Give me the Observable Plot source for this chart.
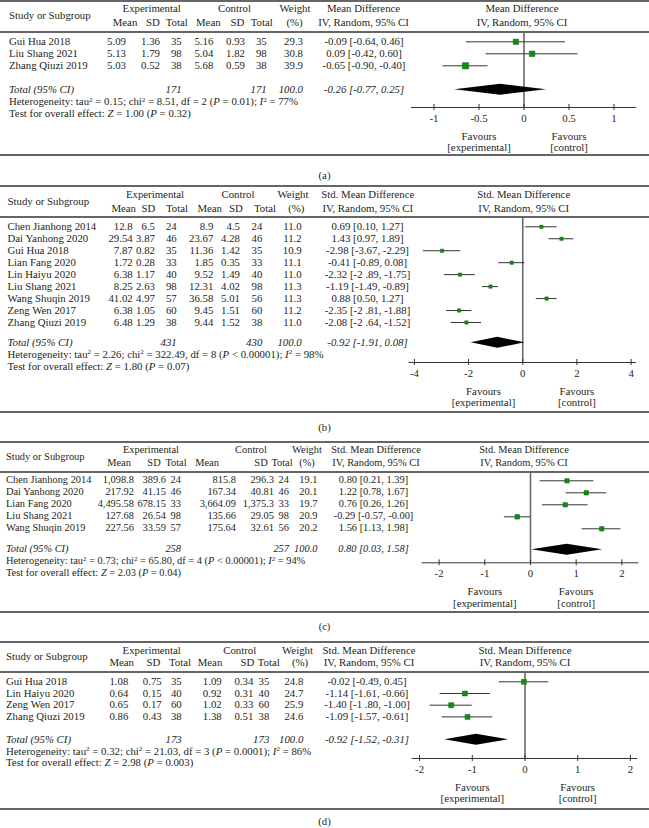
<!DOCTYPE html>
<html><head><meta charset="utf-8">
<script src="https://cdn.jsdelivr.net/npm/d3@7"></script>
<script src="https://cdn.jsdelivr.net/npm/@observablehq/plot@0.6"></script>
<style>
body{margin:0;background:#fff;}
#page{position:relative;width:649px;height:828px;overflow:hidden;font-family:"Liberation Serif","Times New Roman",serif;font-size:10.8px;color:#231f20;background:#fff;}
.layer{position:absolute;left:0;top:0;width:649px;height:828px;}
.t{position:absolute;white-space:nowrap;line-height:1;}
.it{font-style:italic;}
.hr{position:absolute;left:0;width:649px;height:2px;background:#666;}
sup{font-size:7px;line-height:0;position:relative;top:-0.5em;vertical-align:baseline;}
</style></head>
<body><div id="page"></div>
<script>
// ---------- shared labels ----------
const studyHeader = "Study or Subgroup";
const headerGroups = ["Experimental", "Control", "Weight"];
const headerCols = ["Mean", "SD", "Total", "Mean", "SD", "Total", "(%)"];
const ciMethod = "IV, Random, 95% CI";
const totalLabel = "Total (95% CI)";
const favoursLabels = ["Favours\n[experimental]", "Favours\n[control]"];
const panelLabels = ["(a)", "(b)", "(c)", "(d)"];

// ---------- panel (a) ----------
const effectA = "Mean Difference";
const studiesA = ["Gui Hua 2018", "Liu Shang 2021", "Zhang Qiuzi 2019"];
const expMeanA = ["5.09", "5.13", "5.03"];
const expSdA = ["1.36", "1.79", "0.52"];
const expNA = [35, 98, 38];
const ctlMeanA = ["5.16", "5.04", "5.68"];
const ctlSdA = ["0.93", "1.82", "0.59"];
const ctlNA = [35, 98, 38];
const weightA = [29.3, 30.8, 39.9];
const estA = [-0.09, 0.09, -0.65];
const loA = [-0.64, -0.42, -0.90];
const hiA = [0.46, 0.60, -0.40];
const ciTextA = ["-0.09 [-0.64, 0.46]", "0.09 [-0.42, 0.60]", "-0.65 [-0.90, -0.40]"];
const totalNA = [171, 171];
const totalEstA = [-0.26, -0.77, 0.25];
const totalTextA = "-0.26 [-0.77, 0.25]";
const hetA = ["0.15", "8.51", "2", "= 0.01", "77"];
const testA = ["1.00", "= 0.32"];
const ticksA = [-1, -0.5, 0, 0.5, 1];

// ---------- panel (b) ----------
const effectB = "Std. Mean Difference";
const studiesB = ["Chen Jianhong 2014", "Dai Yanhong 2020", "Gui Hua 2018", "Lian Fang 2020", "Lin Haiyu 2020", "Liu Shang 2021", "Wang Shuqin 2019", "Zeng Wen 2017", "Zhang Qiuzi 2019"];
const expMeanB = ["12.8", "29.54", "7.87", "1.72", "6.38", "8.25", "41.02", "6.38", "6.48"];
const expSdB = ["6.5", "3.87", "0.82", "0.28", "1.17", "2.63", "4.97", "1.05", "1.29"];
const expNB = [24, 46, 35, 33, 40, 98, 57, 60, 38];
const ctlMeanB = ["8.9", "23.67", "11.36", "1.85", "9.52", "12.31", "36.58", "9.45", "9.44"];
const ctlSdB = ["4.5", "4.28", "1.42", "0.35", "1.49", "4.02", "5.01", "1.51", "1.52"];
const ctlNB = [24, 46, 35, 33, 40, 98, 56, 60, 38];
const weightB = [11.0, 11.2, 10.9, 11.1, 11.0, 11.3, 11.3, 11.2, 11.0];
const estB = [0.69, 1.43, -2.98, -0.41, -2.32, -1.19, 0.88, -2.35, -2.08];
const loB = [0.10, 0.97, -3.67, -0.89, -2.89, -1.49, 0.50, -2.81, -2.64];
const hiB = [1.27, 1.89, -2.29, 0.08, -1.75, -0.89, 1.27, -1.88, -1.52];
const ciTextB = ["0.69 [0.10, 1.27]", "1.43 [0.97, 1.89]", "-2.98 [-3.67, -2.29]", "-0.41 [-0.89, 0.08]", "-2.32 [-2 .89, -1.75]", "-1.19 [-1.49, -0.89]", "0.88 [0.50, 1.27]", "-2.35 [-2 .81, -1.88]", "-2.08 [-2 .64, -1.52]"];
const totalNB = [431, 430];
const totalEstB = [-0.92, -1.91, 0.08];
const totalTextB = "-0.92 [-1.91, 0.08]";
const hetB = ["2.26", "322.49", "8", "< 0.00001", "98"];
const testB = ["1.80", "= 0.07"];
const ticksB = [-4, -2, 0, 2, 4];

// ---------- panel (c) ----------
const effectC = "Std. Mean Difference";
const studiesC = ["Chen Jianhong 2014", "Dai Yanhong 2020", "Lian Fang 2020", "Liu Shang 2021", "Wang Shuqin 2019"];
const expMeanC = ["1,098.8", "217.92", "4,495.58", "127.68", "227.56"];
const expSdC = ["389.6", "41.15", "678.15", "26.54", "33.59"];
const expNC = [24, 46, 33, 98, 57];
const ctlMeanC = ["815.8", "167.34", "3,664.09", "135.66", "175.64"];
const ctlSdC = ["296.3", "40.81", "1,375.3", "29.05", "32.61"];
const ctlNC = [24, 46, 33, 98, 56];
const weightC = [19.1, 20.1, 19.7, 20.9, 20.2];
const estC = [0.80, 1.22, 0.76, -0.29, 1.56];
const loC = [0.21, 0.78, 0.26, -0.57, 1.13];
const hiC = [1.39, 1.67, 1.26, -0.00, 1.98];
const ciTextC = ["0.80 [0.21, 1.39]", "1.22 [0.78, 1.67]", "0.76 [0.26, 1.26]", "-0.29 [-0.57, -0.00]", "1.56 [1.13, 1.98]"];
const totalNC = [258, 257];
const totalEstC = [0.80, 0.03, 1.58];
const totalTextC = "0.80 [0.03, 1.58]";
const hetC = ["0.73", "65.80", "4", "< 0.00001", "94"];
const testC = ["2.03", "= 0.04"];
const ticksC = [-2, -1, 0, 1, 2];

// ---------- panel (d) ----------
const effectD = "Std. Mean Difference";
const studiesD = ["Gui Hua 2018", "Lin Haiyu 2020", "Zeng Wen 2017", "Zhang Qiuzi 2019"];
const expMeanD = ["1.08", "0.64", "0.65", "0.86"];
const expSdD = ["0.75", "0.15", "0.17", "0.43"];
const expND = [35, 40, 60, 38];
const ctlMeanD = ["1.09", "0.92", "1.02", "1.38"];
const ctlSdD = ["0.34", "0.31", "0.33", "0.51"];
const ctlND = [35, 40, 60, 38];
const weightD = [24.8, 24.7, 25.9, 24.6];
const estD = [-0.02, -1.14, -1.40, -1.09];
const loD = [-0.49, -1.61, -1.80, -1.57];
const hiD = [0.45, -0.66, -1.00, -0.61];
const ciTextD = ["-0.02 [-0.49, 0.45]", "-1.14 [-1.61, -0.66]", "-1.40 [-1 .80, -1.00]", "-1.09 [-1.57, -0.61]"];
const totalND = [173, 173];
const totalEstD = [-0.92, -1.52, -0.31];
const totalTextD = "-0.92 [-1.52, -0.31]";
const hetD = ["0.32", "21.03", "3", "= 0.0001", "86"];
const testD = ["2.98", "= 0.003"];
const ticksD = [-2, -1, 0, 1, 2];

// ---------- layout (pixel positions of the page design) ----------
const layouts = [
  {font:10.8, top:0, h1:8, h2:22, under:31.7, row0:41, pitch:12, gap:2, axis:106.7, bottom:155, label:175,
   x0:411, x1:636, xMax:1.25, fav:[-0.5, 0.5], studyX:9,
   colR:[126,160,181.7,213.3,245,266.7,303], subC:[125,153,176.7,208.3,237.5,261.7,294.5],
   grpC:[151.7,234.5,295], ciC:364, ciHeadC:363.5, forestHeadC:522},
  {font:10.8, top:186, h1:194, h2:208, under:216.7, row0:226, pitch:11.96, gap:1.7, axis:361.7, bottom:411.7, label:427,
   x0:408.5, x1:636, xMax:4.2, fav:[-1.45, 2], studyX:7.5,
   colR:[132.7,155,176.7,213.3,240,262.3,301.7], subC:[123.7,148.3,177,209.7,235.8,265,296.3],
   grpC:[155,238,293], ciC:367.5, ciHeadC:367.8, forestHeadC:523.7},
  {font:10.4, top:441.7, h1:450, h2:463, under:471.7, row0:480, pitch:12, gap:1.75, axis:562, bottom:612, label:627,
   x0:421.7, x1:638.3, xMax:2.37, fav:[-1, 1], studyX:6,
   colR:[134,166,181,236,274,289,317.5], subC:[119,154,176,207,261,282,307],
   grpC:[151,251,307], ciC:373.5, ciHeadC:376, forestHeadC:524},
  {font:10.8, top:641.7, h1:650, h2:662, under:671.7, row0:681, pitch:11.7, gap:1.95, axis:757.7, bottom:809, label:821,
   x0:411.7, x1:637.3, xMax:2.14, fav:[-1, 1], studyX:6,
   colR:[128.3,161.7,181.7,221.7,253.3,269.3,303.3], subC:[121.7,153.5,180,210,247.5,268.7,300],
   grpC:[151.7,239.7,297.5], ciC:367, ciHeadC:369, forestHeadC:525}
];

const panels = [
  {effect:effectA, studies:studiesA, cols:[expMeanA, expSdA, expNA, ctlMeanA, ctlSdA, ctlNA], weight:weightA,
   est:estA, lo:loA, hi:hiA, ciText:ciTextA, totalN:totalNA, totalEst:totalEstA, totalText:totalTextA, het:hetA, test:testA, ticks:ticksA},
  {effect:effectB, studies:studiesB, cols:[expMeanB, expSdB, expNB, ctlMeanB, ctlSdB, ctlNB], weight:weightB,
   est:estB, lo:loB, hi:hiB, ciText:ciTextB, totalN:totalNB, totalEst:totalEstB, totalText:totalTextB, het:hetB, test:testB, ticks:ticksB},
  {effect:effectC, studies:studiesC, cols:[expMeanC, expSdC, expNC, ctlMeanC, ctlSdC, ctlNC], weight:weightC,
   est:estC, lo:loC, hi:hiC, ciText:ciTextC, totalN:totalNC, totalEst:totalEstC, totalText:totalTextC, het:hetC, test:testC, ticks:ticksC},
  {effect:effectD, studies:studiesD, cols:[expMeanD, expSdD, expND, ctlMeanD, ctlSdD, ctlND], weight:weightD,
   est:estD, lo:loD, hi:hiD, ciText:ciTextD, totalN:totalND, totalEst:totalEstD, totalText:totalTextD, het:hetD, test:testD, ticks:ticksD}
];

const page = document.getElementById("page");

function makeLayer(fontSize) {
  const l = document.createElement("div");
  l.className = "layer";
  l.style.fontSize = fontSize + "px";
  page.appendChild(l);
  return l;
}
function put(layer, html, x, y, align, cls) {
  const d = document.createElement("div");
  d.className = "t" + (cls ? " " + cls : "");
  d.innerHTML = html;
  const tx = align === "right" ? "-100%" : align === "center" ? "-50%" : "0";
  d.style.left = x + "px";
  d.style.top = y + "px";
  d.style.transform = `translate(${tx}, -50%)`;
  layer.appendChild(d);
}
function hr(y) {
  const d = document.createElement("div");
  d.className = "hr";
  d.style.top = Math.max(0, y - 1) + "px";
  page.appendChild(d);
}

function buildPanel(D, L, label) {
  const n = D.studies.length;
  const rows = D.studies.map((s, i) => ({i, est: D.est[i], lo: D.lo[i], hi: D.hi[i], w: D.weight[i]}));
  const toRow = px => (px - L.row0) / L.pitch;
  const topRow = toRow(L.under), axisRow = toRow(L.axis);
  const totalRow = n - 1 + L.gap;
  const hh = 5.5 / L.pitch;
  const [tE, tLo, tHi] = D.totalEst;
  const diamond = [
    {x: tLo, y1: totalRow, y2: totalRow},
    {x: tE, y1: totalRow - hh, y2: totalRow + hh},
    {x: tHi, y1: totalRow, y2: totalRow}
  ];
  const fav = L.fav.map((x, k) => ({x, text: favoursLabels[k]}));
  const chart = Plot.plot({
    width: 649,
    height: L.bottom - L.under,
    marginLeft: L.x0,
    marginRight: 649 - L.x1,
    marginTop: 0,
    marginBottom: L.bottom - L.axis,
    style: {fontFamily: '"Liberation Serif", "Times New Roman", serif', fontSize: "10.8px", color: "#231f20", background: "transparent", overflow: "visible"},
    x: {domain: [-L.xMax, L.xMax]},
    y: {domain: [topRow, axisRow], reverse: true, axis: null},
    r: {domain: [0, 100], range: [0, 5.64]},
    marks: [
      Plot.ruleY([axisRow], {stroke: "#333", strokeWidth: 1}),
      Plot.ruleX([0], {y1: topRow, y2: axisRow, stroke: "#6a6a6a", strokeWidth: 1.6}),
      Plot.ruleY(rows, {y: "i", x1: "lo", x2: "hi", stroke: "#333", strokeWidth: 1}),
      Plot.dot(rows, {x: "est", y: "i", r: "w", symbol: "square", fill: "#168a16", stroke: "#0f6a0f", strokeWidth: 0.5}),
      Plot.areaY(diamond, {x: "x", y1: "y1", y2: "y2", fill: "#000"}),
      Plot.axisX(D.ticks, {tickFormat: d => String(d), tickSize: 6, tickPadding: 4, dy: -3, label: null, stroke: "#333", fill: "#231f20"}),
      Plot.text(fav, {x: "x", text: "text", frameAnchor: "bottom", dy: 24, lineAnchor: "top", lineHeight: 1.08, fill: "#231f20"})
    ]
  });
  chart.style.position = "absolute";
  chart.style.left = "0px";
  chart.style.top = L.under + "px";
  page.appendChild(chart);

  const ys = chart.scale("y");
  const Y = v => L.under + ys.apply(v);
  const layer = makeLayer(L.font);

  // borders
  hr(L.top); hr(L.under); hr(L.bottom);

  // header
  put(layer, studyHeader, L.studyX, (L.h1 + L.h2) / 2, "left");
  headerGroups.forEach((g, k) => put(layer, g, L.grpC[k], L.h1, "center"));
  headerCols.forEach((h, k) => put(layer, h, L.subC[k], L.h2, "center"));
  put(layer, D.effect, L.ciHeadC, L.h1, "center");
  put(layer, ciMethod, L.ciHeadC, L.h2, "center");
  put(layer, D.effect, L.forestHeadC, L.h1, "center");
  put(layer, ciMethod, L.forestHeadC, L.h2, "center");

  // study rows
  D.studies.forEach((s, i) => {
    const y = Y(i);
    put(layer, s, L.studyX, y, "left");
    D.cols.forEach((col, k) => put(layer, String(col[i]), L.colR[k], y, "right"));
    put(layer, D.weight[i].toFixed(1), L.colR[6], y, "right");
    put(layer, D.ciText[i], L.ciC, y, "center");
  });

  // total + statistics
  const yT = Y(totalRow);
  put(layer, totalLabel, L.studyX, yT, "left", "it");
  put(layer, String(D.totalN[0]), L.colR[2], yT, "right", "it");
  put(layer, String(D.totalN[1]), L.colR[5], yT, "right", "it");
  put(layer, "100.0", L.colR[6], yT, "right", "it");
  put(layer, D.totalText, L.ciC, yT, "center", "it");
  const [tau, chi, df, p, i2] = D.het;
  put(layer, `Heterogeneity: tau<sup>2</sup> = ${tau}; chi<sup>2</sup> = ${chi}, df = ${df} (<i>P</i> ${p}); <i>I</i><sup>2</sup> = ${i2}%`, L.studyX, Y(totalRow + 1), "left");
  put(layer, `Test for overall effect: <i>Z</i> = ${D.test[0]} (<i>P</i> ${D.test[1]})`, L.studyX, Y(totalRow + 2), "left");

  put(layer, label, 324.5, L.label, "center");
}

panels.forEach((D, k) => buildPanel(D, layouts[k], panelLabels[k]));
</script>
</body></html>
